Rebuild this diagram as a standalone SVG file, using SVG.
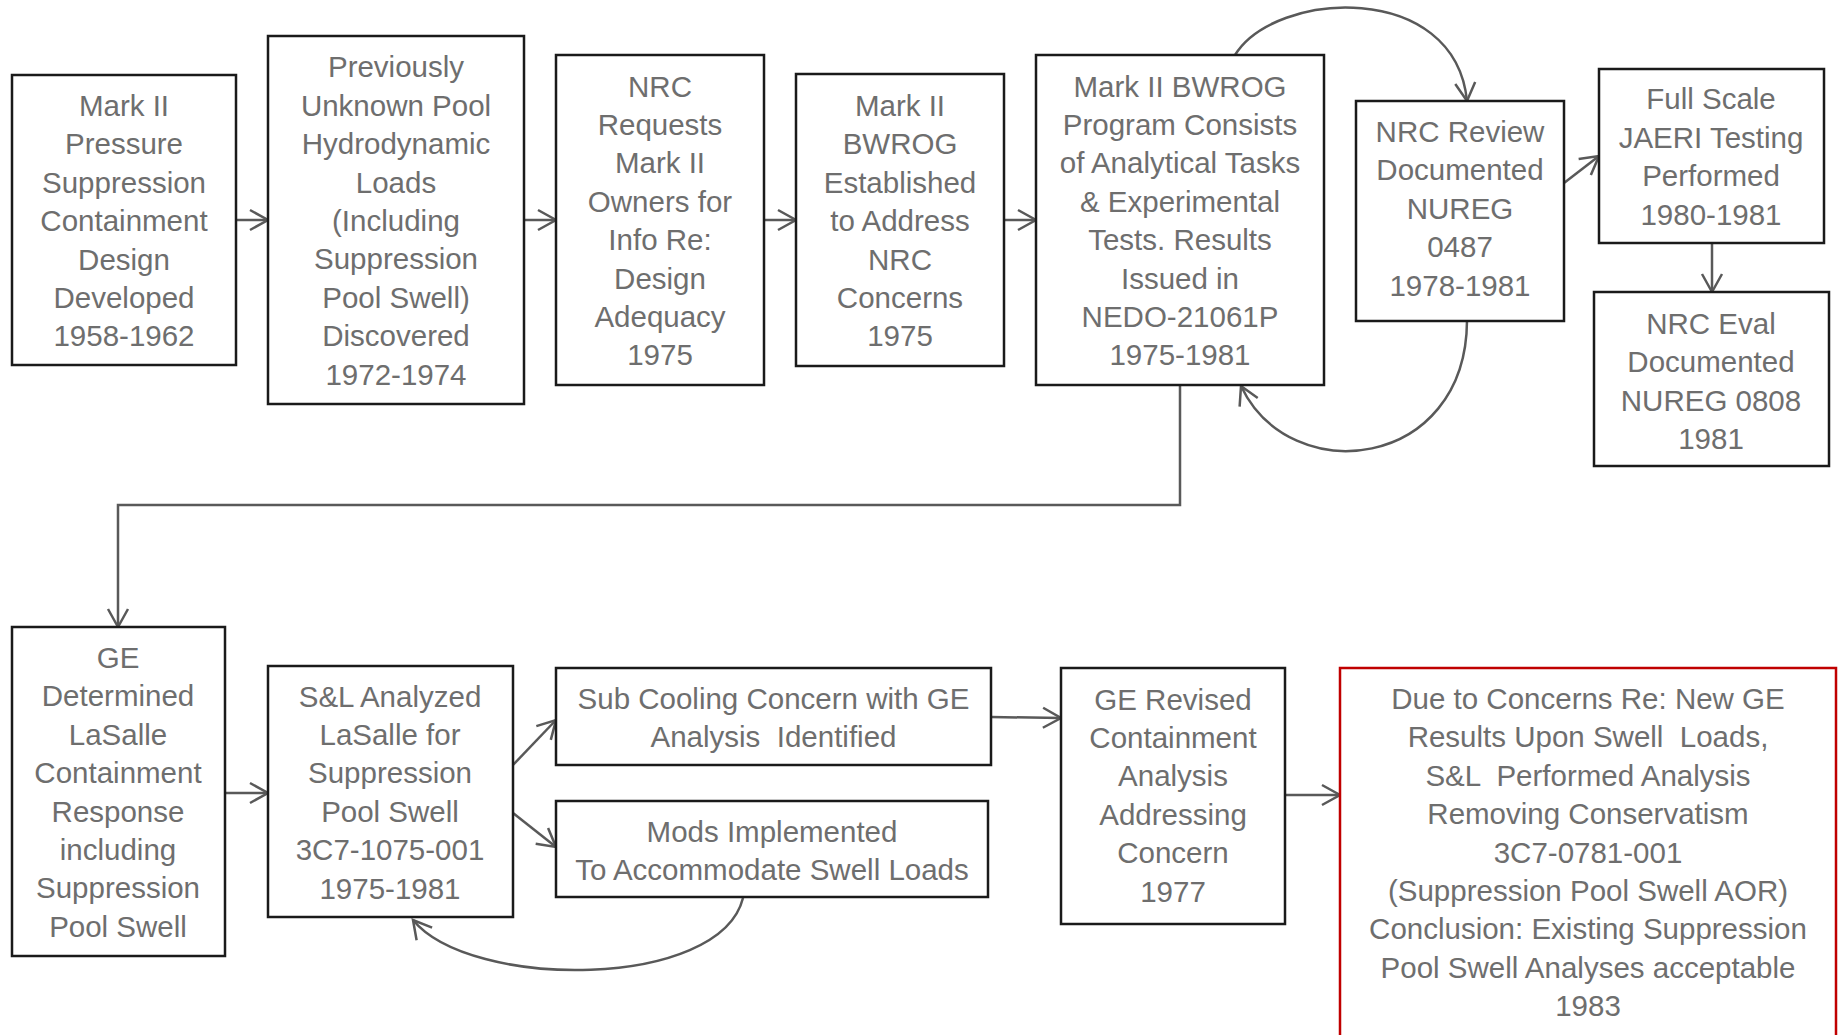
<svg xmlns="http://www.w3.org/2000/svg" width="1839" height="1035" viewBox="0 0 1839 1035">
<style>
.box{fill:#ffffff;stroke:#1a1a1a;stroke-width:2.5}
.red{fill:#ffffff;stroke:#c00000;stroke-width:2.5}
.t{font-family:"Liberation Sans",Arial,sans-serif;font-size:29.5px;fill:#6e6e6e;text-anchor:middle}
.c{fill:none;stroke:#595959;stroke-width:2.5;marker-end:url(#arr)}
</style>
<defs>
<marker id="arr" viewBox="-22 -14 26 28" refX="0" refY="0" markerWidth="26" markerHeight="28" markerUnits="userSpaceOnUse" orient="auto">
<path d="M-18,-10 L0,0 L-18,10" fill="none" stroke="#595959" stroke-width="2.5"/>
</marker>
</defs>
<rect width="1839" height="1035" fill="#ffffff"/>

<g id="connectors">
<path class="c" d="M236,220 H268"/>
<path class="c" d="M524,220 H556"/>
<path class="c" d="M764,220 H796"/>
<path class="c" d="M1004,220 H1036"/>
<path class="c" d="M1235,55 C1275,-10 1455,-20 1467,101"/>
<path class="c" d="M1467,321 C1466,470 1290,490 1241,386"/>
<path class="c" d="M1564,183 L1599,156"/>
<path class="c" d="M1712,243 V292"/>
<path class="c" d="M1180,385 V505 H118 V627"/>
<path class="c" d="M225,793 H268"/>
<path class="c" d="M513,765 L556,720"/>
<path class="c" d="M513,813 L556,847"/>
<path class="c" d="M991,717 L1061,718"/>
<path class="c" d="M1285,795 H1340"/>
<path class="c" d="M743,898 C720,990 470,990 413,920"/>
</g>

<g id="n1">
<rect class="box" x="12" y="75" width="224" height="290"/>
<text class="t"><tspan x="124" y="116">Mark II</tspan><tspan x="124" y="154.4">Pressure</tspan><tspan x="124" y="192.8">Suppression</tspan><tspan x="124" y="231.2">Containment</tspan><tspan x="124" y="269.6">Design</tspan><tspan x="124" y="308">Developed</tspan><tspan x="124" y="346.4">1958-1962</tspan></text>
</g>

<g id="n2">
<rect class="box" x="268" y="36" width="256" height="368"/>
<text class="t"><tspan x="396" y="77.4">Previously</tspan><tspan x="396" y="115.8">Unknown Pool</tspan><tspan x="396" y="154.2">Hydrodynamic</tspan><tspan x="396" y="192.6">Loads</tspan><tspan x="396" y="231">(Including</tspan><tspan x="396" y="269.4">Suppression</tspan><tspan x="396" y="307.8">Pool Swell)</tspan><tspan x="396" y="346.2">Discovered</tspan><tspan x="396" y="384.6">1972-1974</tspan></text>
</g>

<g id="n3">
<rect class="box" x="556" y="55" width="208" height="330"/>
<text class="t"><tspan x="660" y="96.6">NRC</tspan><tspan x="660" y="135">Requests</tspan><tspan x="660" y="173.4">Mark II</tspan><tspan x="660" y="211.8">Owners for</tspan><tspan x="660" y="250.2">Info Re:</tspan><tspan x="660" y="288.6">Design</tspan><tspan x="660" y="327">Adequacy</tspan><tspan x="660" y="365.4">1975</tspan></text>
</g>

<g id="n4">
<rect class="box" x="796" y="74" width="208" height="292"/>
<text class="t"><tspan x="900" y="116">Mark II</tspan><tspan x="900" y="154.4">BWROG</tspan><tspan x="900" y="192.8">Established</tspan><tspan x="900" y="231.2">to Address</tspan><tspan x="900" y="269.6">NRC</tspan><tspan x="900" y="308">Concerns</tspan><tspan x="900" y="346.4">1975</tspan></text>
</g>

<g id="n5">
<rect class="box" x="1036" y="55" width="288" height="330"/>
<text class="t"><tspan x="1180" y="96.6">Mark II BWROG</tspan><tspan x="1180" y="135">Program Consists</tspan><tspan x="1180" y="173.4">of Analytical Tasks</tspan><tspan x="1180" y="211.8">&amp; Experimental</tspan><tspan x="1180" y="250.2">Tests. Results</tspan><tspan x="1180" y="288.6">Issued in</tspan><tspan x="1180" y="327">NEDO-21061P</tspan><tspan x="1180" y="365.4">1975-1981</tspan></text>
</g>

<g id="n6">
<rect class="box" x="1356" y="101" width="208" height="220"/>
<text class="t"><tspan x="1460" y="142">NRC Review</tspan><tspan x="1460" y="180.4">Documented</tspan><tspan x="1460" y="218.8">NUREG</tspan><tspan x="1460" y="257.2">0487</tspan><tspan x="1460" y="295.6">1978-1981</tspan></text>
</g>

<g id="n7">
<rect class="box" x="1599" y="69" width="225" height="174"/>
<text class="t"><tspan x="1711" y="109.4">Full Scale</tspan><tspan x="1711" y="147.8">JAERI Testing</tspan><tspan x="1711" y="186.2">Performed</tspan><tspan x="1711" y="224.6">1980-1981</tspan></text>
</g>

<g id="n8">
<rect class="box" x="1594" y="292" width="235" height="174"/>
<text class="t"><tspan x="1711" y="334">NRC Eval</tspan><tspan x="1711" y="372.4">Documented</tspan><tspan x="1711" y="410.8">NUREG 0808</tspan><tspan x="1711" y="449.2">1981</tspan></text>
</g>

<g id="n9">
<rect class="box" x="12" y="627" width="213" height="329"/>
<text class="t"><tspan x="118" y="668">GE</tspan><tspan x="118" y="706.4">Determined</tspan><tspan x="118" y="744.8">LaSalle</tspan><tspan x="118" y="783.2">Containment</tspan><tspan x="118" y="821.6">Response</tspan><tspan x="118" y="860">including</tspan><tspan x="118" y="898.4">Suppression</tspan><tspan x="118" y="936.8">Pool Swell</tspan></text>
</g>

<g id="n10">
<rect class="box" x="268" y="666" width="245" height="251"/>
<text class="t"><tspan x="390" y="706.5">S&amp;L Analyzed</tspan><tspan x="390" y="744.9">LaSalle for</tspan><tspan x="390" y="783.3">Suppression</tspan><tspan x="390" y="821.7">Pool Swell</tspan><tspan x="390" y="860.1">3C7-1075-001</tspan><tspan x="390" y="898.5">1975-1981</tspan></text>
</g>

<g id="n11">
<rect class="box" x="556" y="668" width="435" height="97"/>
<text class="t" xml:space="preserve"><tspan x="773.5" y="709">Sub Cooling Concern with GE</tspan><tspan x="773.5" y="747.4">Analysis  Identified</tspan></text>
</g>

<g id="n12">
<rect class="box" x="556" y="801" width="432" height="96"/>
<text class="t"><tspan x="772" y="842">Mods Implemented</tspan><tspan x="772" y="880.4">To Accommodate Swell Loads</tspan></text>
</g>

<g id="n13">
<rect class="box" x="1061" y="668" width="224" height="256"/>
<text class="t"><tspan x="1173" y="709.5">GE Revised</tspan><tspan x="1173" y="747.9">Containment</tspan><tspan x="1173" y="786.3">Analysis</tspan><tspan x="1173" y="824.7">Addressing</tspan><tspan x="1173" y="863.1">Concern</tspan><tspan x="1173" y="901.5">1977</tspan></text>
</g>

<g id="n14">
<rect class="red" x="1340" y="668" width="496" height="390"/>
<text class="t" xml:space="preserve"><tspan x="1588" y="709">Due to Concerns Re: New GE</tspan><tspan x="1588" y="747.4">Results Upon Swell  Loads,</tspan><tspan x="1588" y="785.8">S&amp;L  Performed Analysis</tspan><tspan x="1588" y="824.2">Removing Conservatism</tspan><tspan x="1588" y="862.6">3C7-0781-001</tspan><tspan x="1588" y="901">(Suppression Pool Swell AOR)</tspan><tspan x="1588" y="939.4">Conclusion: Existing Suppression</tspan><tspan x="1588" y="977.8">Pool Swell Analyses acceptable</tspan><tspan x="1588" y="1016.2">1983</tspan></text>
</g>
</svg>
